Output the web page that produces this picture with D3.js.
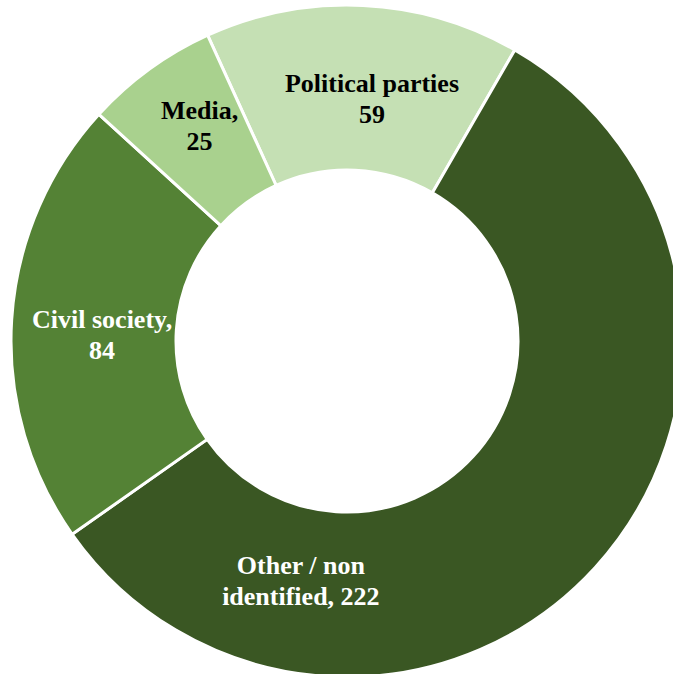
<!DOCTYPE html>
<html>
<head>
<meta charset="utf-8">
<script src="https://cdn.jsdelivr.net/npm/d3@7"></script>
<style>
  body { margin: 0; background: #fff; }
  svg text { font-family: "Liberation Serif", "Times New Roman", serif; font-weight: bold; font-size: 26px; }
</style>
</head>
<body>
<div class="container"></div>
<script>
var categories = ["Political parties", "Other / non identified", "Civil society", "Media"];
var values = [59, 222, 84, 25];
var labelLines = [["Political parties", "59"], ["Other / non", "identified, 222"], ["Civil society,", "84"], ["Media,", "25"]];
var colors = ["#c5e0b4", "#3a5723", "#548235", "#a9d18e"];
var textColors = ["#000", "#fff", "#fff", "#000"];

const WIDTH = 673;
const HEIGHT = 674;
const CX = 347, CY = 341;
const OUTER = 336, INNER = 171;
const START = -24.5 * Math.PI / 180;
const LINE_H = 31;
// label placement (angle in degrees from 12 o'clock, distance from centre)
var labelAngle = [5.9, -169.1, -88.5, -34.4];
var labelRadius = [243, 244, 245, 261];

var svg = d3.select('.container').append('svg')
  .attr('width', WIDTH)
  .attr('height', HEIGHT);

var g = svg.append('g').attr('transform', 'translate(' + CX + ',' + CY + ')');

var pie = d3.pie().sort(null)
  .startAngle(START)
  .endAngle(START + 2 * Math.PI)
  .value(function(d){ return d; });

var arc = d3.arc().innerRadius(INNER).outerRadius(OUTER);
var arcs = pie(values);

g.selectAll('path')
  .data(arcs)
  .enter().append('path')
  .attr('d', arc)
  .attr('fill', function(d, i){ return colors[i]; })
  .attr('stroke', '#fff')
  .attr('stroke-width', 3);

var labels = g.selectAll('text.lbl')
  .data(arcs)
  .enter().append('text')
  .attr('class', 'lbl')
  .attr('text-anchor', 'middle')
  .attr('fill', function(d, i){ return textColors[i]; })
  .attr('transform', function(d, i){
    var a = labelAngle[i] * Math.PI / 180;
    return 'translate(' + (labelRadius[i] * Math.sin(a)) + ',' + (-labelRadius[i] * Math.cos(a)) + ')';
  });

labels.each(function(d, i){
  var t = d3.select(this);
  labelLines[i].forEach(function(line, j){
    t.append('tspan')
      .attr('x', 0)
      .attr('y', (j - 0.5) * LINE_H + 8.5)
      .text(line);
  });
});
</script>
</body>
</html>
